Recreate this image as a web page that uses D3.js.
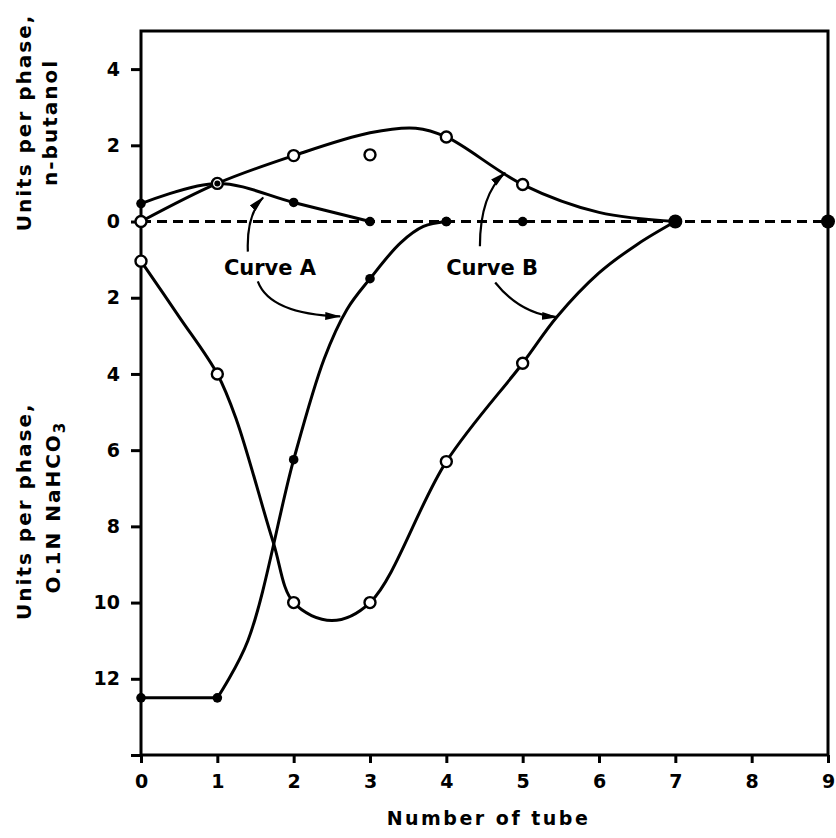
<!DOCTYPE html>
<html>
<head>
<meta charset="utf-8">
<script src="https://cdn.jsdelivr.net/npm/d3@7"></script>
<style>
  html, body { margin: 0; padding: 0; background: #fff; }
  svg { display: block; font-family: "DejaVu Sans", sans-serif; font-weight: bold; }
</style>
</head>
<body>
<svg id="chart" width="836" height="838"></svg>
<script>
// tick values
const tubeTicks = [0, 1, 2, 3, 4, 5, 6, 7, 8, 9];
const butanolTicks = [4, 2, 0];
const bicarbTicks = [2, 4, 6, 8, 10, 12, 14];   // 14 has no label

// measured points (units per phase), bicarbonate phase is drawn downward
const tubesA = [0, 1, 2, 3, 4, 5];
const aButanol = [0.47, 1.0, 0.5, 0, 0, 0];
const tubesABicarb = [0, 1, 2, 3, 4];
const aBicarb = [12.5, 12.5, 6.25, 1.5, 0];
const tubesB = [0, 1, 2, 3, 4, 5];
const bButanol = [0, 1.0, 1.73, 1.75, 2.22, 0.97];
const bBicarb = [1.04, 4.0, 10.0, 10.0, 6.3, 3.72];
const endTubes = [7, 9];   // big dots on the zero line

// the hand drawn curves as [tube, units]
const lineAButanol = [[0, 0.47], [1, 1.0], [2, 0.5], [3, 0]];
const lineABicarbFlat = [[0, 12.5], [1, 12.5]];
const lineABicarbRise = [[1, 12.5], [1.4, 11.0], [2, 6.25], [2.4, 3.6], [2.7, 2.3], [3, 1.5], [3.4, 0.56], [3.7, 0.13], [4, 0]];
const lineBButanol = [[0, 0], [1, 1.0], [2, 1.73], [3, 2.33], [3.6, 2.45], [4, 2.22], [5, 0.97], [6, 0.24], [7, 0]];
const lineBBicarb = [[0, 1.04], [0.5, 2.5], [1, 4.0], [1.25, 5.2], [1.73, 8.4], [2, 10.0], [2.5, 10.47], [3, 10.0], [4, 6.3], [5, 3.72], [5.45, 2.5], [6, 1.35], [6.5, 0.6], [7, 0]];

// labels and arrows (tube, signed units: negative = bicarbonate side)
const curveLabels = ["Curve A", "Curve B"];
const curveLabelPos = [[1.69, -1.41], [4.6, -1.41]];
const arrows = [
  [[1.40, -0.79], [1.38, 0.18], [1.60, 0.63]],
  [[1.53, -1.57], [1.69, -2.43], [2.61, -2.49]],
  [[4.44, -0.65], [4.44, 0.71], [4.77, 1.28]],
  [[4.64, -1.60], [4.97, -2.43], [5.45, -2.51]]
];

const width = 836;
const height = 838;
const marginTop = 31;
const marginRight = 8;
const marginBottom = 83;
const marginLeft = 141;

const svg = d3.select('#chart');

const x = d3.scaleLinear()
    .domain([0, 9])
    .range([marginLeft, width - marginRight]);

// one signed scale: butanol up, bicarbonate down
const y = d3.scaleLinear()
    .domain([-14, 5])
    .range([height - marginBottom, marginTop]);

svg.append("defs").append("marker")
    .attr("id", "head")
    .attr("viewBox", "0 -5 16 10")
    .attr("refX", 15)
    .attr("refY", 0)
    .attr("markerUnits", "userSpaceOnUse")
    .attr("markerWidth", 16)
    .attr("markerHeight", 10)
    .attr("orient", "auto")
  .append("path")
    .attr("d", "M0,-4L16,0L0,4Z")
    .attr("fill", "#000");

const tickFont = g => g.selectAll("text").attr("fill", "#000")
    .style("font-size", "19px").style("font-family", "DejaVu Sans").style("font-weight", "bold");

// axes
const yTicks = butanolTicks.concat(bicarbTicks.map(d => -d));
svg.append("g")
    .attr("transform", `translate(${marginLeft},0)`)
    .call(d3.axisLeft(y).tickValues(yTicks).tickSize(10).tickPadding(11)
      .tickFormat(d => d === -14 ? "" : Math.abs(d)))
    .call(g => g.select(".domain").remove())
    .call(g => g.selectAll("line").attr("stroke", "#000").attr("stroke-width", 3))
    .call(tickFont);

svg.append("g")
    .attr("transform", `translate(0,${height - marginBottom})`)
    .call(d3.axisBottom(x).tickValues(tubeTicks).tickSize(8).tickPadding(12))
    .call(g => g.select(".domain").remove())
    .call(g => g.selectAll("line").attr("stroke", "#000").attr("stroke-width", 3))
    .call(tickFont);

// frame
svg.append("rect")
    .attr("x", x(0))
    .attr("y", y(5))
    .attr("width", x(9) - x(0))
    .attr("height", y(-14) - y(5))
    .attr("fill", "none")
    .attr("stroke", "#000")
    .attr("stroke-width", 3);

// zero line
svg.append("line")
    .attr("x1", x(0)).attr("x2", x(9))
    .attr("y1", y(0)).attr("y2", y(0))
    .attr("stroke", "#000")
    .attr("stroke-width", 3)
    .attr("stroke-dasharray", "10,6");

// curves
const smooth = d3.curveCatmullRom.alpha(0.5);
const lineUp = d3.line().x(d => x(d[0])).y(d => y(d[1])).curve(smooth);
const lineDown = d3.line().x(d => x(d[0])).y(d => y(-d[1])).curve(smooth);

[[lineBButanol, lineUp], [lineBBicarb, lineDown], [lineAButanol, lineUp],
 [lineABicarbFlat, lineDown], [lineABicarbRise, lineDown]]
  .forEach(([pts, gen]) => {
    svg.append("path")
        .attr("d", gen(pts))
        .attr("fill", "none")
        .attr("stroke", "#000")
        .attr("stroke-width", 3);
  });

// open circles, curve B
const openPts = tubesB.map((t, i) => [t, bButanol[i]])
  .concat(tubesB.map((t, i) => [t, -bBicarb[i]]));
svg.append("g")
  .selectAll("circle")
  .data(openPts)
  .join("circle")
    .attr("cx", d => x(d[0]))
    .attr("cy", d => y(d[1]))
    .attr("r", 5.5)
    .attr("fill", "#fff")
    .attr("stroke", "#000")
    .attr("stroke-width", 2.4);

// filled dots, curve A
const filledPts = tubesA.map((t, i) => [t, aButanol[i]])
  .concat(tubesABicarb.map((t, i) => [t, -aBicarb[i]]));
svg.append("g")
  .selectAll("circle")
  .data(filledPts)
  .join("circle")
    .attr("cx", d => x(d[0]))
    .attr("cy", d => y(d[1]))
    .attr("r", d => d[0] === 1 && d[1] > 0 ? 3 : 4.8)
    .attr("fill", "#000");

svg.append("g")
  .selectAll("circle")
  .data(endTubes)
  .join("circle")
    .attr("cx", d => x(d))
    .attr("cy", y(0))
    .attr("r", 7)
    .attr("fill", "#000");

// curve labels and arrows
svg.append("g")
  .selectAll("text")
  .data(curveLabels)
  .join("text")
    .attr("x", (d, i) => x(curveLabelPos[i][0]))
    .attr("y", (d, i) => y(curveLabelPos[i][1]))
    .attr("text-anchor", "middle")
    .style("font-size", "21px")
    .text(d => d);

svg.append("g")
  .selectAll("path")
  .data(arrows)
  .join("path")
    .attr("d", d => {
      const p = d3.path();
      p.moveTo(x(d[0][0]), y(d[0][1]));
      p.quadraticCurveTo(x(d[1][0]), y(d[1][1]), x(d[2][0]), y(d[2][1]));
      return p.toString();
    })
    .attr("fill", "none")
    .attr("stroke", "#000")
    .attr("stroke-width", 2.2)
    .attr("marker-end", "url(#head)");

// axis titles
const upperTitle = svg.append("text")
    .attr("transform", `translate(0,${y(2.6)}) rotate(-90)`)
    .attr("text-anchor", "middle")
    .style("font-size", "20px")
    .style("letter-spacing", "2px");
upperTitle.append("tspan").attr("x", 0).attr("y", 31).text("Units per phase,");
upperTitle.append("tspan").attr("x", 0).attr("y", 57).text("n-butanol");

const lowerTitle = svg.append("text")
    .attr("transform", `translate(0,${y(-7.6)}) rotate(-90)`)
    .attr("text-anchor", "middle")
    .style("font-size", "20px")
    .style("letter-spacing", "2px");
lowerTitle.append("tspan").attr("x", 0).attr("y", 31).text("Units per phase,");
const line2 = lowerTitle.append("tspan").attr("x", 0).attr("y", 60).attr("dx", 4);
line2.append("tspan").text("O.1N NaHCO");
line2.append("tspan").attr("dy", 5).style("font-size", "15px").text("3");

svg.append("text")
    .attr("x", (x(0) + x(9)) / 2 + 4)
    .attr("y", 825)
    .attr("text-anchor", "middle")
    .style("font-size", "19px")
    .style("letter-spacing", "2.5px")
    .text("Number of tube");
</script>
</body>
</html>
